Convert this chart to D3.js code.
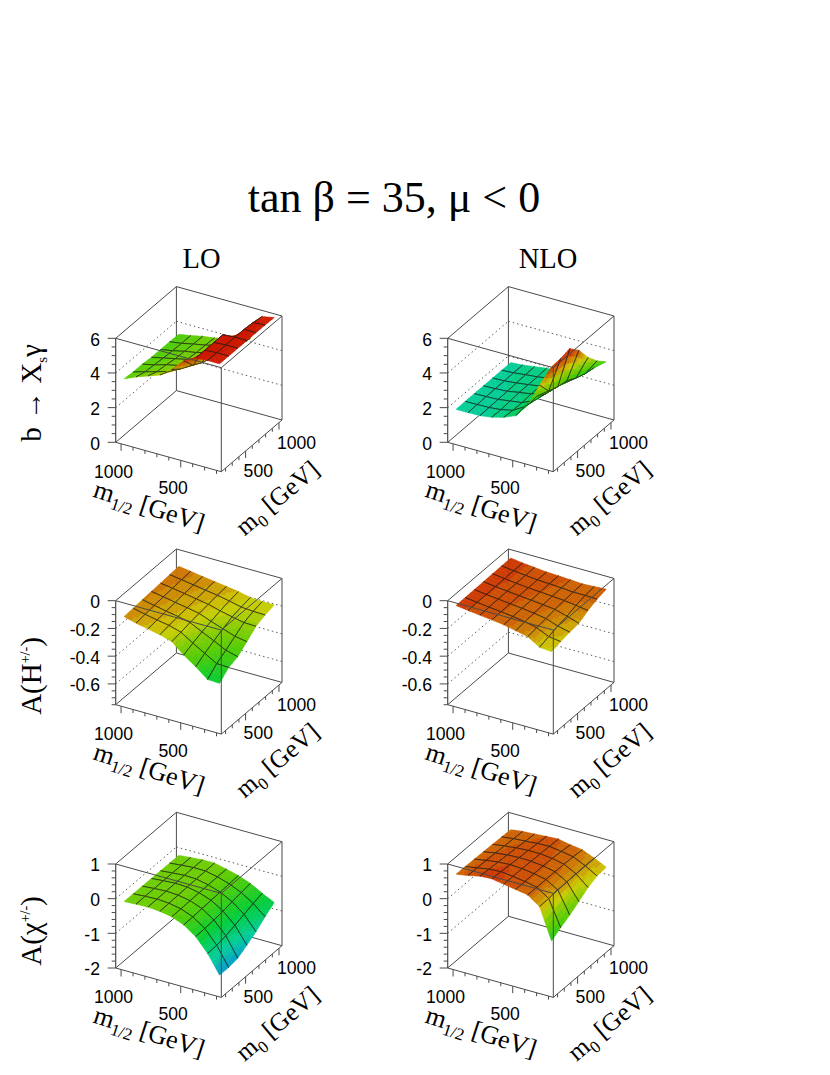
<!DOCTYPE html>
<html><head><meta charset="utf-8">
<script src="https://cdn.jsdelivr.net/npm/d3@7/dist/d3.min.js"></script>
<style>html,body{margin:0;padding:0;background:#fff}svg{display:block}</style>
</head><body><svg id="c" width="830" height="1075"></svg>
<script>
// axis nodes of the surface grid
const m12Nodes = [1000,900,800,700,600,500,400,300,200];
const m0Nodes = [181,317.5,454,590.5,727,863.5,1000];
const m12Major = [1000,500];
const m12Minor = [900,800,700,600,400,300,200];
const m0Major = [500,1000];
const m0Minor = [200,300,400,600,700,800,900];

// surface heights: rows run over m0 (low to high), columns over m1/2 (1000 to 200)
const bsgLO = [
 [3.6,3.9,4.15,4.4,4.9,5.6,5.95,6,6],
 [3.55,3.75,3.95,4.15,4.5,4.9,5.95,6,6],
 [3.55,3.7,3.9,4.05,4.3,4.6,5.95,6,6],
 [3.5,3.65,3.8,3.95,4.15,4.4,5.95,6,6],
 [3.5,3.62,3.78,3.9,4.1,4.3,4.8,6,6],
 [3.5,3.6,3.75,3.88,4.05,4.2,4.5,5.95,6],
 [3.48,3.6,3.75,3.85,4.0,4.15,4.4,5.85,5.98]];
const bsgNLO = [
 [1.84,1.84,1.86,1.96,2.15,2.44,3.23,4.58,5.82],
 [1.85,1.86,1.88,1.95,2.1,2.5,3.3,3.8,5.86],
 [1.85,1.87,1.9,2.0,2.1,2.4,3.0,3.6,5.98],
 [1.85,1.88,1.92,2.05,2.15,2.4,2.9,3.5,5.44],
 [1.85,1.88,1.95,2.05,2.15,2.35,2.7,3.2,4.58],
 [1.85,1.9,1.98,2.05,2.15,2.3,2.6,3.0,3.93],
 [1.85,1.9,2.0,2.1,2.15,2.3,2.55,2.9,3.43]];
const higgsLO = [
 [-.122,-.146,-.163,-.182,-.207,-.28,-.34,-.408,-.4125],
 [-.118,-.138,-.155,-.170,-.195,-.25,-.30,-.35,-.353],
 [-.113,-.130,-.147,-.162,-.182,-.225,-.265,-.31,-.332],
 [-.109,-.124,-.140,-.155,-.172,-.205,-.235,-.265,-.28],
 [-.105,-.118,-.132,-.147,-.162,-.185,-.205,-.222,-.225],
 [-.10,-.113,-.126,-.14,-.153,-.17,-.19,-.197,-.199],
 [-.096,-.108,-.121,-.133,-.145,-.158,-.177,-.182,-.182]];
const higgsNLO = [
 [-.042,-.054,-.064,-.074,-.086,-.104,-.123,-.176,-.184],
 [-.041,-.052,-.062,-.072,-.082,-.096,-.115,-.155,-.167],
 [-.040,-.051,-.060,-.070,-.079,-.09,-.105,-.135,-.155],
 [-.039,-.05,-.059,-.068,-.076,-.085,-.095,-.12,-.147],
 [-.038,-.049,-.058,-.067,-.073,-.08,-.087,-.098,-.111],
 [-.037,-.048,-.057,-.066,-.07,-.076,-.082,-.082,-.085],
 [-.036,-.048,-.056,-.065,-.068,-.073,-.078,-.074,-.069]];
const charginoLO = [
 [-.113,-.095,-.08,-.11,-.17,-.31,-.55,-.94,-1.47],
 [-.115,-.09,-.075,-.10,-.165,-.30,-.54,-.93,-1.475],
 [-.118,-.09,-.07,-.09,-.155,-.285,-.52,-.88,-1.43],
 [-.12,-.09,-.065,-.08,-.15,-.27,-.49,-.80,-1.28],
 [-.122,-.09,-.062,-.072,-.145,-.26,-.44,-.71,-1.115],
 [-.125,-.09,-.062,-.065,-.14,-.245,-.40,-.62,-.905],
 [-.128,-.092,-.062,-.062,-.14,-.23,-.36,-.548,-.72]];
const charginoNLO = [
 [.676,.733,.811,.829,.769,.712,.652,.409,-.488],
 [.67,.73,.79,.81,.77,.72,.65,.42,-.326],
 [.66,.72,.77,.79,.77,.72,.65,.44,-.185],
 [.65,.71,.75,.77,.76,.72,.65,.45,-.02],
 [.64,.69,.73,.75,.75,.71,.64,.46,.16],
 [.63,.675,.70,.73,.74,.69,.63,.47,.27],
 [.616,.661,.682,.709,.727,.658,.61,.466,.30]];

const bsgDomain = [0,6], bsgTicks = [0,2,4,6], bsgLabels = ["0","2","4","6"], bsgMinor = 0.5;
const higgsDomain = [-.75,0], higgsTicks = [-.6,-.4,-.2,0], higgsLabels = ["-0.6","-0.4","-0.2","0"], higgsMinor = 0.05;
const charginoDomain = [-2,1], charginoTicks = [-2,-1,0,1], charginoLabels = ["-2","-1","0","1"], charginoMinor = 0.2;

const colTitles = ["LO","NLO"];

// layout
const svg = d3.select("#c");
const serif = "'Liberation Serif','Times New Roman',serif";
const sans = "'Liberation Sans',Arial,sans-serif";
const colX = [0,332];
const rowY = [442.3,704.7,968];
const boxDX1 = 105.6, boxDY1 = 29.4, boxDX2 = 60.7, boxDY2 = -51.7, boxH = 104;

const m12U = d3.scaleLinear().domain([1045,160]).range([0,1]);
const m0V = d3.scaleLinear().domain([136,1045]).range([0,1]);
const palette = d3.scaleLinear()
  .domain([0,.17,.3,.45,.6,.68,.76,.83,.9,.95,1])
  .range(["#0040cc","#0099cc","#00cc99","#00cc33","#55cc00","#80cc00","#cccc00","#cc8c00","#cc5800","#cc3400","#cc1800"]);
const band = w => palette(Math.round(Math.max(0,Math.min(1,w))*36)/36);

const panels = [
 {c:0,r:0,z:bsgLO,dom:bsgDomain,t:bsgTicks,l:bsgLabels,m:bsgMinor},
 {c:1,r:0,z:bsgNLO,dom:bsgDomain,t:bsgTicks,l:bsgLabels,m:bsgMinor},
 {c:0,r:1,z:higgsLO,dom:higgsDomain,t:higgsTicks,l:higgsLabels,m:higgsMinor},
 {c:1,r:1,z:higgsNLO,dom:higgsDomain,t:higgsTicks,l:higgsLabels,m:higgsMinor},
 {c:0,r:2,z:charginoLO,dom:charginoDomain,t:charginoTicks,l:charginoLabels,m:charginoMinor},
 {c:1,r:2,z:charginoNLO,dom:charginoDomain,t:charginoTicks,l:charginoLabels,m:charginoMinor}
];

const lineCol = "#4a4a4a";

function drawPanel(p){
  const ox = 115.7+colX[p.c], oy = rowY[p.r];
  const W = d3.scaleLinear().domain(p.dom).range([0,1]);
  const P = (u,v,w)=>[ox+u*boxDX1+v*boxDX2, oy+u*boxDY1+v*boxDY2-w*boxH];
  const g = svg.append("g");
  const seg = (a,b,sw,dash)=>{
    const s=g.append("line").attr("x1",a[0]).attr("y1",a[1]).attr("x2",b[0]).attr("y2",b[1])
      .attr("stroke",lineCol).attr("stroke-width",sw||1);
    if(dash) s.attr("stroke-dasharray",dash);
    return s;
  };
  // back walls
  seg(P(0,0,0),P(0,1,0)); seg(P(0,1,0),P(1,1,0));
  seg(P(0,1,0),P(0,1,1)); seg(P(1,1,0),P(1,1,1));
  seg(P(0,0,1),P(0,1,1)); seg(P(0,1,1),P(1,1,1));
  p.t.forEach(t=>{
    const w=W(t);
    if(w<=0.001||w>=0.999) return;
    seg(P(0,0,w),P(0,1,w),.9,"1.5 3");
    seg(P(0,1,w),P(1,1,w),.9,"1.5 3");
  });
  seg(P(0,0,0),P(1,0,0)); seg(P(1,0,0),P(1,1,0));

  // surface, far cells first
  const surf = g.append("g");
  const nu=m12Nodes.length, nv=m0Nodes.length, sub=5;
  for(let i=0;i<nu-1;i++){
    for(let j=nv-2;j>=0;j--){
      const u0=m12U(m12Nodes[i]),u1=m12U(m12Nodes[i+1]),v0=m0V(m0Nodes[j]),v1=m0V(m0Nodes[j+1]);
      const w00=W(p.z[j][i]),w10=W(p.z[j][i+1]),w01=W(p.z[j+1][i]),w11=W(p.z[j+1][i+1]);
      const bi=(a,b)=>(1-a)*(1-b)*w00+a*(1-b)*w10+(1-a)*b*w01+a*b*w11;
      const pt=(a,b)=>P(u0+(u1-u0)*a,v0+(v1-v0)*b,bi(a,b));
      for(let a=0;a<sub;a++){for(let b=sub-1;b>=0;b--){
        const a0=a/sub,a1=(a+1)/sub,b0=b/sub,b1=(b+1)/sub;
        const q=[pt(a0,b0),pt(a1,b0),pt(a1,b1),pt(a0,b1)];
        const col=band(bi((a0+a1)/2,(b0+b1)/2));
        surf.append("path").attr("d","M"+q.join("L")+"Z").attr("fill",col).attr("stroke",col).attr("stroke-width",.5);
      }}
      const mesh=(a,b)=>surf.append("line").attr("x1",a[0]).attr("y1",a[1]).attr("x2",b[0]).attr("y2",b[1])
        .attr("stroke","#1a1a1a").attr("stroke-width",.7);
      if(j>0) mesh(pt(0,0),pt(1,0));
      if(j<nv-2) mesh(pt(0,1),pt(1,1));
      if(i>0) mesh(pt(0,0),pt(0,1));
      if(i<nu-2) mesh(pt(1,0),pt(1,1));
    }
  }

  // front box edges
  seg(P(0,0,0),P(0,0,1),1.2);
  seg(P(1,0,0),P(1,0,1));
  seg(P(0,0,1),P(1,0,1));
  seg(P(1,0,1),P(1,1,1));

  // z axis ticks and labels
  const zStart=Math.ceil((p.dom[0]-1e-9)/p.m), zEnd=Math.floor((p.dom[1]+1e-9)/p.m);
  d3.range(zStart,zEnd+1).map(k=>k*p.m).forEach(t=>{
    const major=p.t.some(x=>Math.abs(x-t)<1e-6), a=P(0,0,W(t));
    seg(a,[a[0]-(major?8:4),a[1]],1);
  });
  p.t.forEach((t,k)=>{
    const a=P(0,0,W(t));
    g.append("text").attr("x",a[0]-15.7).attr("y",a[1]+7.4).attr("text-anchor","end")
      .attr("font-family",sans).attr("font-size",17.6).attr("fill","#000").text(p.l[k]);
  });
  // m1/2 ticks
  m12Minor.forEach(t=>{const a=P(m12U(t),0,0);seg(a,[a[0],a[1]+3.5]);});
  m12Major.forEach(t=>{const a=P(m12U(t),0,0);seg(a,[a[0],a[1]+7]);
    g.append("text").attr("x",a[0]-7.5).attr("y",a[1]+34).attr("text-anchor","middle")
      .attr("font-family",sans).attr("font-size",17.6).attr("fill","#000").text(String(t));});
  // m0 ticks
  m0Minor.forEach(t=>{const b=P(1,m0V(t),0);seg(b,[b[0],b[1]+3.5]);});
  m0Major.forEach(t=>{const a=P(1,m0V(t),0);seg(a,[a[0],a[1]+7]);
    g.append("text").attr("x",a[0]-2).attr("y",a[1]+26).attr("text-anchor","start")
      .attr("font-family",sans).attr("font-size",17.6).attr("fill","#000").text(String(t));});

  // axis titles
  const t1=g.append("text").attr("transform",`translate(${ox+31},${oy+72}) rotate(18)`)
    .attr("text-anchor","middle").attr("font-family",serif).attr("font-size",26).attr("fill","#000");
  t1.append("tspan").text("m");
  t1.append("tspan").attr("dy",6).attr("font-size",17).text("1/2");
  t1.append("tspan").attr("dy",-6).text(" [GeV]");
  const t2=g.append("text").attr("transform",`translate(${ox+167},${oy+62}) rotate(-40)`)
    .attr("text-anchor","middle").attr("font-family",serif).attr("font-size",25.5).attr("fill","#000");
  t2.append("tspan").text("m");
  t2.append("tspan").attr("dy",6).attr("font-size",17).text("0");
  t2.append("tspan").attr("dy",-6).text(" [GeV]");
}
panels.forEach(drawPanel);

// titles
svg.append("text").attr("x",394).attr("y",212).attr("text-anchor","middle")
  .attr("font-family",serif).attr("font-size",44).attr("fill","#000").text("tan β = 35, μ < 0");
colTitles.forEach((t,i)=>svg.append("text").attr("x",[201.5,548][i]).attr("y",268).attr("text-anchor","middle")
  .attr("font-family",serif).attr("font-size",28.5).attr("fill","#000").text(t));

function rowLabel(yc,parts){
  const t=svg.append("text").attr("transform",`translate(41,${yc}) rotate(-90)`)
    .attr("text-anchor","middle").attr("font-family",serif).attr("font-size",29).attr("fill","#000");
  parts.forEach(([s,dy,fs])=>{const k=t.append("tspan").text(s);if(dy)k.attr("dy",dy);if(fs)k.attr("font-size",fs);});
}
rowLabel(393,[["b → X"],["s",6,15],["γ",-6,29]]);
rowLabel(676,[["A(H"],["+/-",-11,14],[")",11,29]]);
rowLabel(931,[["A(χ"],["+/-",-11,14],[")",11,29]]);
</script></body></html>
